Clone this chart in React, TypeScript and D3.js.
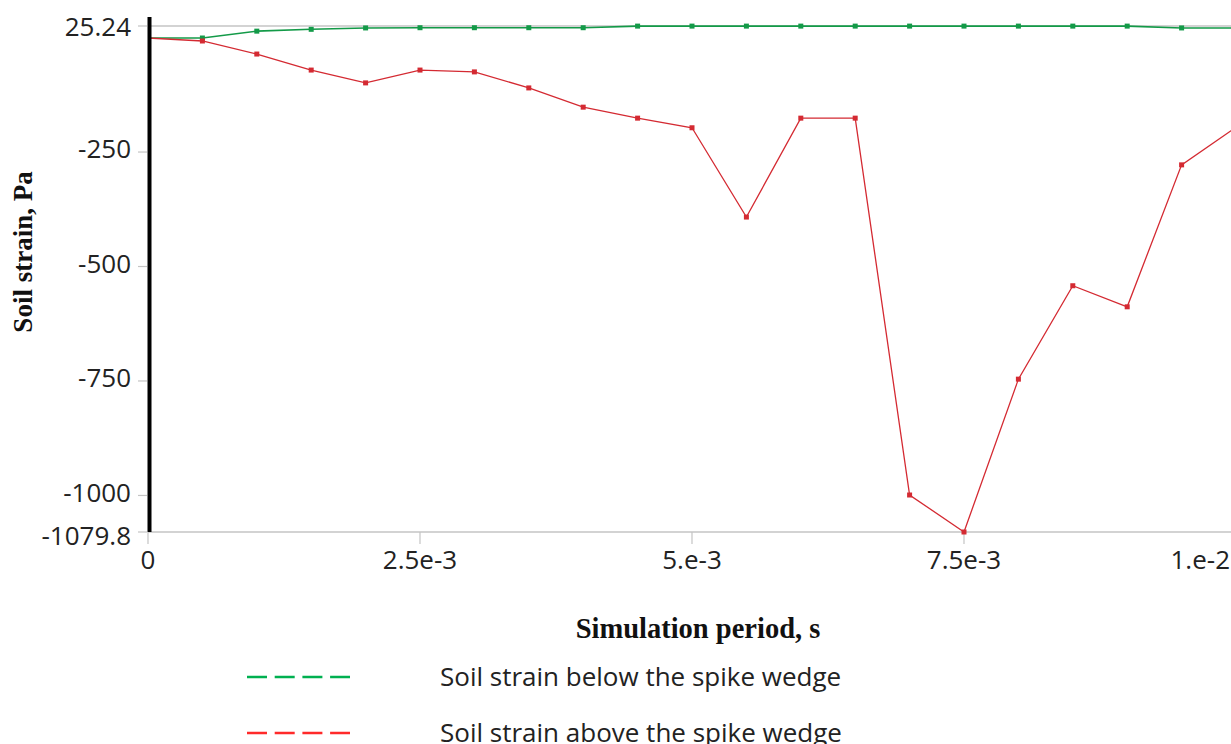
import React from "react";
import * as d3 from "d3";

const timeSteps = [0, 5e-4, 1e-3, 1.5e-3, 2e-3, 2.5e-3, 3e-3, 3.5e-3, 4e-3, 4.5e-3, 5e-3, 5.5e-3, 6e-3, 6.5e-3, 7e-3, 7.5e-3, 8e-3, 8.5e-3, 9e-3, 9.5e-3, 1e-2];
const belowWedge = [-1, -1, 14, 18, 21, 21.5, 21.5, 21.5, 21.5, 25, 25, 25, 25, 25, 25, 25, 25, 25, 25, 21, 21];
const aboveWedge = [-1, -7.5, -36, -71, -99, -71, -75, -110, -152, -176, -197, -392, -176, -176, -999, -1079.8, -746, -542, -588, -278, -196];
const yTicks = [25.24, -250, -500, -750, -1000, -1079.8];
const yTickLabels = ["25.24", "-250", "-500", "-750", "-1000", "-1079.8"];
const xTicks = [0, 2.5e-3, 5e-3, 7.5e-3, 1e-2];
const xTickLabels = ["0", "2.5e-3", "5.e-3", "7.5e-3", "1.e-2"];
const seriesNames = ["Soil strain below the spike wedge", "Soil strain above the spike wedge"];
const yTitle = "Soil strain, Pa";
const xTitle = "Simulation period, s";

const W = 1231;
const H = 744;
const left = 148;
const rightEdge = 1231;
const top = 26;
const bottom = 532;

export default function App() {
  const x = d3.scaleLinear().domain([0, 1e-2]).range([left, 1236]);
  const y = d3.scaleLinear().domain([-1079.8, 25.24]).range([bottom, top]);
  const line = d3
    .line<number>()
    .x((_, i) => x(timeSteps[i]))
    .y((d) => y(d));

  const series = [
    { data: belowWedge, color: "#139a48", width: 1.6, legend: "#00b050" },
    { data: aboveWedge, color: "#d42a32", width: 1.3, legend: "#ff2a2a" },
  ];
  const tickFont = "'Open Sans', sans-serif";
  const serif = "'Liberation Serif', 'DejaVu Serif', serif";

  return (
    <svg width={W} height={H} style={{ position: "absolute", left: 0, top: 0, background: "#fff" }}>
      <defs>
        <clipPath id="plotclip">
          <rect x={left} y={top - 10} width={rightEdge - left} height={bottom - top + 20} />
        </clipPath>
      </defs>
      <line x1={left} x2={rightEdge} y1={top} y2={top} stroke="#c4c4c4" strokeWidth={1.5} />
      <line x1={left} x2={rightEdge} y1={bottom} y2={bottom} stroke="#c4c4c4" strokeWidth={1.5} />
      {yTicks.map((v, i) => {
        const ty = y(v);
        let dy = -3;
        if (i === 0) dy = 1;
        if (i === yTicks.length - 1) dy = 4;
        return (
          <g key={"y" + i}>
            <line x1={138} x2={147} y1={ty} y2={ty} stroke="#c4c4c4" strokeWidth={1.2} />
            <text x={131} y={ty + dy} dy="0.36em" textAnchor="end" fontFamily={tickFont} fontSize={26} fill="#222">
              {yTickLabels[i]}
            </text>
          </g>
        );
      })}
      {xTicks.map((v, i) => {
        const tx = x(v);
        const last = i === xTicks.length - 1;
        return (
          <g key={"x" + i}>
            {tx <= rightEdge && <line x1={tx} x2={tx} y1={bottom} y2={544} stroke="#c4c4c4" strokeWidth={1.2} />}
            <text
              x={last ? rightEdge - 1 : tx}
              y={569}
              textAnchor={last ? "end" : "middle"}
              fontFamily={tickFont}
              fontSize={26}
              fill="#222"
            >
              {xTickLabels[i]}
            </text>
          </g>
        );
      })}
      <g clipPath="url(#plotclip)">
        {series.map((s, si) => (
          <g key={"s" + si}>
            <path d={line(s.data) || ""} fill="none" stroke={s.color} strokeWidth={s.width} />
            {s.data.map((v, i) => (
              <rect key={i} x={x(timeSteps[i]) - 2.5} y={y(v) - 2.5} width={5} height={5} fill={s.color} />
            ))}
          </g>
        ))}
      </g>
      <line x1={149.5} x2={149.5} y1={17} y2={bottom} stroke="#000" strokeWidth={4} />
      <text
        transform={`translate(32, 252) rotate(-90)`}
        textAnchor="middle"
        fontFamily={serif}
        fontSize={27}
        fontWeight="bold"
        fill="#111"
      >
        {yTitle}
      </text>
      <text x={698} y={638} textAnchor="middle" fontFamily={serif} fontSize={28.5} fontWeight="bold" fill="#111">
        {xTitle}
      </text>
      {series.map((s, si) => {
        const ly = 677 + si * 56;
        return (
          <g key={"l" + si}>
            <line x1={247} x2={350} y1={ly} y2={ly} stroke={s.legend} strokeWidth={2.5} strokeDasharray="20 7.7" />
            <text x={440} y={ly + 9} fontFamily={tickFont} fontSize={26} fill="#222">
              {seriesNames[si]}
            </text>
          </g>
        );
      })}
    </svg>
  );
}
